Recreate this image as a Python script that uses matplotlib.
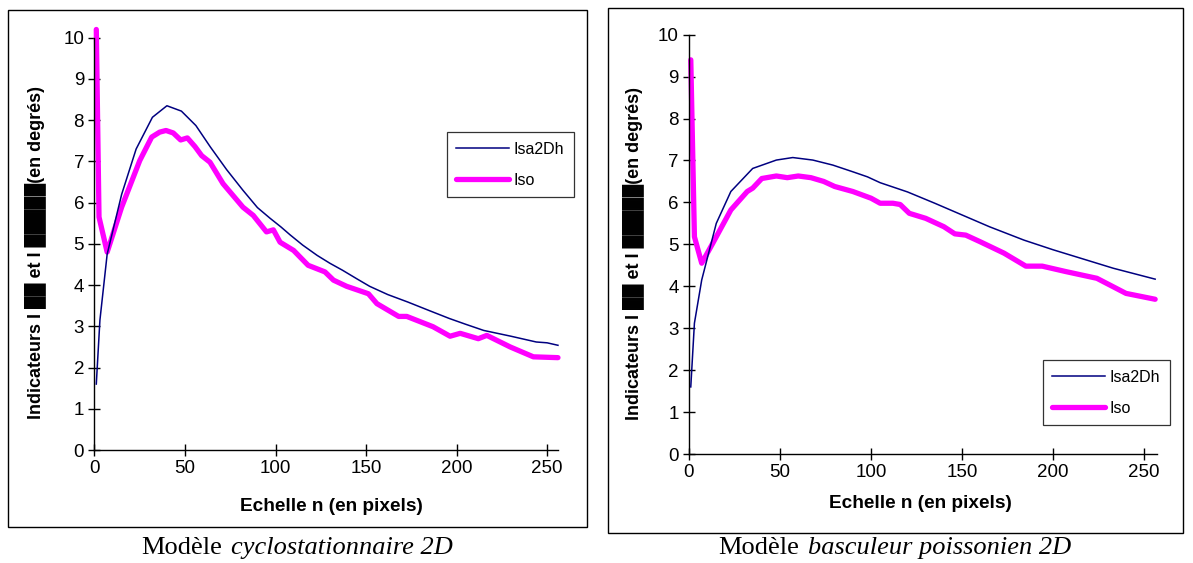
import matplotlib
matplotlib.use('Agg')
import matplotlib.pyplot as plt
from matplotlib.patches import Rectangle
from matplotlib.offsetbox import TextArea, HPacker, AnchoredOffsetbox

# --- data ---
# left chart: modele cyclostationnaire 2D
cyclo_isa_x = [1, 3, 7, 15, 23, 32, 40, 48, 56, 64, 73, 82, 90, 97, 103, 108, 115,
               123, 130, 137, 145, 152, 162, 173, 185, 196, 205, 215, 230, 244, 250, 256]
cyclo_isa_y = [1.6, 3.15, 4.75, 6.2, 7.3, 8.07, 8.35, 8.22, 7.87, 7.35, 6.8, 6.3, 5.88,
               5.62, 5.41, 5.22, 4.97, 4.72, 4.53, 4.36, 4.15, 3.97, 3.77, 3.59, 3.38,
               3.19, 3.05, 2.9, 2.76, 2.62, 2.6, 2.54]
cyclo_iso_x = [1, 2.5, 7, 15, 25, 31.6, 36, 39.5, 43.5, 47.6, 51.3, 55.5, 59.2, 63.8, 71,
               82, 87.7, 95, 98.8, 102.5, 110, 118, 127.3, 132, 139.3, 151.3, 156, 168,
               172.5, 187, 196.4, 202, 212, 216.7, 229.6, 242.4, 256]
cyclo_iso_y = [10.2, 5.65, 4.8, 5.89, 7.02, 7.59, 7.71, 7.75, 7.69, 7.52, 7.57, 7.36,
               7.14, 6.98, 6.46, 5.89, 5.69, 5.29, 5.34, 5.04, 4.84, 4.48, 4.32, 4.12,
               3.97, 3.79, 3.55, 3.24, 3.24, 2.99, 2.76, 2.83, 2.7, 2.78, 2.5, 2.26, 2.24]

# right chart: modele basculeur poissonien 2D
bascul_isa_x = [1, 3, 7, 15, 23, 35, 48, 57, 68, 79, 90, 98, 105, 120, 135, 150, 165,
                184, 200, 218, 233, 256]
bascul_isa_y = [1.6, 3.12, 4.15, 5.5, 6.26, 6.81, 7.01, 7.07, 7.01, 6.89, 6.73, 6.61,
                6.47, 6.25, 5.98, 5.7, 5.42, 5.1, 4.87, 4.63, 4.43, 4.17]
bascul_iso_x = [1, 3, 7, 13, 21, 23, 32, 35, 40, 48, 54, 60, 67, 74, 80, 90, 100, 105,
                112, 116, 121, 130, 140, 146, 152, 160, 173, 185, 194, 207, 224, 240, 256]
bascul_iso_y = [9.4, 5.18, 4.55, 5.02, 5.66, 5.82, 6.26, 6.34, 6.57, 6.63, 6.59, 6.63,
                6.59, 6.5, 6.38, 6.26, 6.1, 5.98, 5.98, 5.95, 5.74, 5.62, 5.42, 5.25,
                5.22, 5.06, 4.79, 4.48, 4.48, 4.35, 4.19, 3.83, 3.69]

series_names = ['Isa2Dh', 'Iso']
captions_roman = ['Modèle', 'Modèle']
captions_italic = ['cyclostationnaire 2D', 'basculeur poissonien 2D']
xlabel = 'Echelle n (en pixels)'
ylabel = 'Indicateurs I ██ et I █████(en degrés)'
y_ticks = list(range(0, 11))
x_ticks = [0, 50, 100, 150, 200, 250]

plt.rcParams['font.family'] = ['Liberation Sans', 'DejaVu Sans']

fig = plt.figure(figsize=(11.93, 5.63), dpi=100)

ax_left = fig.add_axes([0.0792, 0.2007, 0.3885, 0.7323])
ax_right = fig.add_axes([0.5775, 0.1936, 0.3923, 0.7448])


def draw_panel(ax, isa_x, isa_y, iso_x, iso_y, xmax, legend_anchor, ylab_pos, xlab_pos):
    ax.plot(isa_x, isa_y, color='#000080', lw=1.1, label=series_names[0],
            clip_on=False, zorder=3)
    ax.plot(iso_x, iso_y, color='#FF00FF', lw=3.8, label=series_names[1],
            clip_on=False, solid_capstyle='round', solid_joinstyle='round', zorder=2)
    ax.set_xlim(0, xmax)
    ax.set_ylim(0, 10)
    ax.set_xticks(x_ticks)
    ax.set_yticks(y_ticks)
    for side in ['top', 'right']:
        ax.spines[side].set_visible(False)
    for side in ['left', 'bottom']:
        ax.spines[side].set_linewidth(1.0)
    ax.tick_params(direction='inout', length=9, width=1.0, labelsize=13.5)
    ax.tick_params(axis='y', pad=3)
    ax.tick_params(axis='x', pad=3)
    ax.set_xlabel(xlabel, fontsize=13.7, fontweight='bold')
    ax.set_ylabel(ylabel, fontsize=13, fontweight='bold')
    ax.yaxis.set_label_coords(*ylab_pos)
    ax.xaxis.set_label_coords(*xlab_pos)
    leg = ax.legend(loc='upper left', bbox_to_anchor=legend_anchor, borderaxespad=0,
                    fancybox=False, edgecolor='black', fontsize=11.5, handlelength=3.3,
                    labelspacing=1.0, handletextpad=0.3, borderpad=0.6)
    leg.get_frame().set_linewidth(0.9)
    leg.set_clip_on(False)


def caption(roman, italic, xpos):
    props = dict(family='Liberation Serif', size=19)
    parts = [TextArea(roman, textprops=props),
             TextArea(italic, textprops=dict(props, style='italic'))]
    box = HPacker(children=parts, align='baseline', pad=0, sep=6)
    anchored = AnchoredOffsetbox(loc='center', child=box, pad=0, borderpad=0,
                                 frameon=False, bbox_to_anchor=(xpos, 0.027),
                                 bbox_transform=fig.transFigure)
    fig.add_artist(anchored)


draw_panel(ax_left, cyclo_isa_x, cyclo_isa_y, cyclo_iso_x, cyclo_iso_y, 256,
           (0.76, 0.771), (-0.105, 0.48), (0.512, -0.116))
draw_panel(ax_right, bascul_isa_x, bascul_isa_y, bascul_iso_x, bascul_iso_y, 257,
           (0.756, 0.224), (-0.096, 0.477), (0.494, -0.098))

# chart frames
fig.patches.append(Rectangle((0.0067, 0.064), 0.4853, 0.918, transform=fig.transFigure,
                             fill=False, edgecolor='black', lw=1.0))
fig.patches.append(Rectangle((0.5096, 0.0533), 0.482, 0.9325, transform=fig.transFigure,
                             fill=False, edgecolor='black', lw=1.0))

# captions under the charts
caption(captions_roman[0], captions_italic[0], 0.249)
caption(captions_roman[1], captions_italic[1], 0.75)

fig.savefig('out.png', dpi=100)
